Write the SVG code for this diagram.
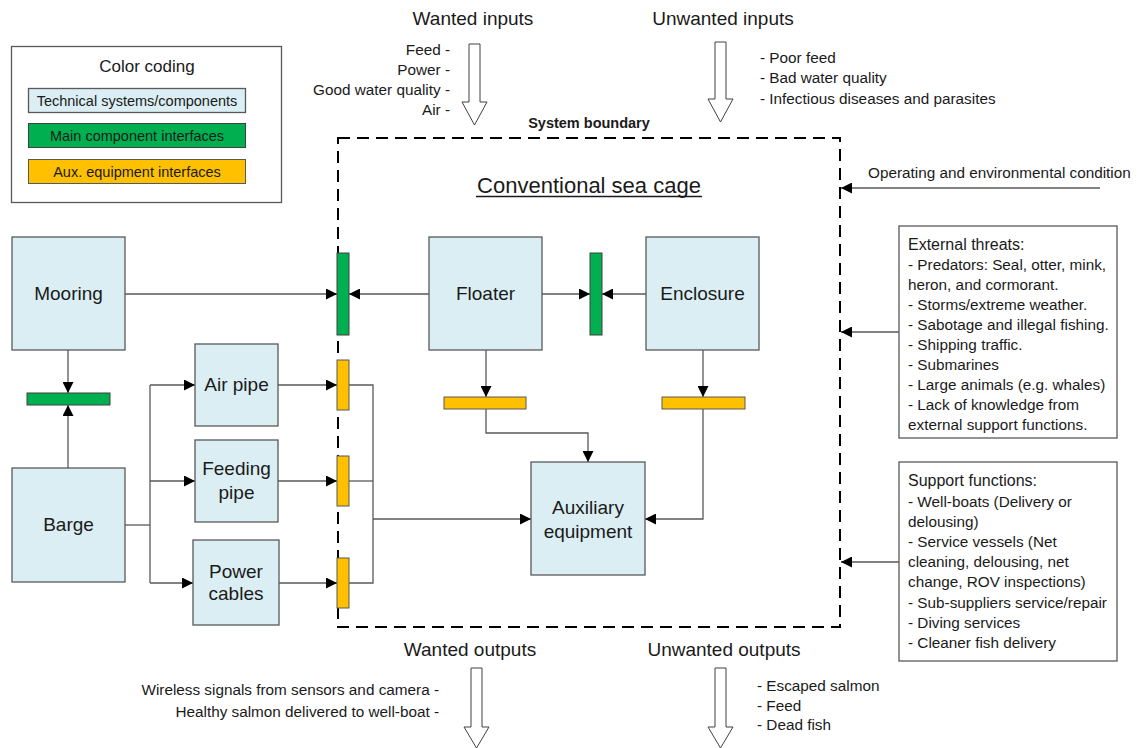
<svg xmlns="http://www.w3.org/2000/svg" width="1142" height="748" viewBox="0 0 1142 748">
  <style>
    text { font-family: "Liberation Sans", Arial, sans-serif; fill: #1a1a1a; }
    .node { fill: #DAEEF3; stroke: #595959; stroke-width: 1.3; }
    .main { fill: #00B050; stroke: #404040; stroke-width: 1; }
    .aux { fill: #FFC000; stroke: #595959; stroke-width: 1; }
    .box { fill: #ffffff; stroke: #595959; stroke-width: 1.3; }
    .lbl { font-size: 19px; text-anchor: middle; }
    .sm { font-size: 15.3px; }
    .leg { font-size: 14.5px; text-anchor: middle; }
    .hd { font-size: 19px; text-anchor: middle; }
    .conn { fill: none; stroke: #595959; stroke-width: 1.3; }
    .hollow { fill: #ffffff; stroke: #404040; stroke-width: 1; }
  </style>
  <defs>
    <marker id="ah" markerUnits="userSpaceOnUse" markerWidth="11" markerHeight="11" refX="11" refY="5.5" orient="auto">
      <path d="M0,0 L11,5.5 L0,11 z" fill="#000"/>
    </marker>
  </defs>
  <rect width="1142" height="748" fill="#ffffff"/>

  <!-- legend -->
  <g id="legend">
    <rect class="box" x="11.5" y="46.5" width="270" height="156"/>
    <text x="147" y="72" text-anchor="middle" font-size="17">Color coding</text>
    <rect class="node" x="28.5" y="88.5" width="217" height="24"/>
    <text x="137" y="105.5" class="leg">Technical systems/components</text>
    <rect class="main" x="28.5" y="123.5" width="217" height="24"/>
    <text x="137" y="140.5" class="leg">Main component interfaces</text>
    <rect class="aux" x="28.5" y="159.5" width="217" height="24"/>
    <text x="137" y="176.5" class="leg">Aux. equipment interfaces</text>
  </g>

  <!-- inputs -->
  <g id="wanted-inputs">
    <text class="hd" x="473" y="25">Wanted inputs</text>
    <polygon class="hollow" points="469,44 480,44 480,102 487,102 474.5,125 462,102 469,102"/>
    <g class="sm" text-anchor="end">
      <text x="450" y="55">Feed -</text>
      <text x="450" y="75">Power -</text>
      <text x="450" y="95">Good water quality -</text>
      <text x="450" y="115">Air  -</text>
    </g>
  </g>
  <g id="unwanted-inputs">
    <text class="hd" x="723" y="25">Unwanted inputs</text>
    <polygon class="hollow" points="715,42 726,42 726,99 733,99 720.5,122 708,99 715,99"/>
    <g class="sm">
      <text x="760" y="63">- Poor feed</text>
      <text x="760" y="83">- Bad water quality</text>
      <text x="760" y="104">- Infectious diseases and parasites</text>
    </g>
  </g>

  <!-- system boundary -->
  <g id="boundary">
    <text x="589" y="128" text-anchor="middle" font-size="14.5" font-weight="bold">System boundary</text>
    <rect x="338" y="138" width="502" height="489" fill="none" stroke="#000" stroke-width="2" stroke-dasharray="12,7"/>
    <text x="589" y="193" text-anchor="middle" font-size="22">Conventional sea cage</text>
    <line x1="476" y1="196.5" x2="702" y2="196.5" stroke="#1a1a1a" stroke-width="1.3"/>
  </g>

  <!-- connectors -->
  <g id="connectors" class="conn">
    <line x1="125" y1="294" x2="337" y2="294" marker-end="url(#ah)"/>
    <line x1="429" y1="294" x2="349" y2="294" marker-end="url(#ah)"/>
    <line x1="542" y1="294" x2="590" y2="294" marker-end="url(#ah)"/>
    <line x1="646" y1="294" x2="602" y2="294" marker-end="url(#ah)"/>
    <line x1="68" y1="350" x2="68" y2="393" marker-end="url(#ah)"/>
    <line x1="68" y1="468" x2="68" y2="405" marker-end="url(#ah)"/>
    <polyline points="125,525 150,525"/>
    <polyline points="150,385 150,583"/>
    <line x1="150" y1="385" x2="195" y2="385" marker-end="url(#ah)"/>
    <line x1="150" y1="481" x2="195" y2="481" marker-end="url(#ah)"/>
    <line x1="150" y1="583" x2="193" y2="583" marker-end="url(#ah)"/>
    <line x1="278" y1="385" x2="337" y2="385" marker-end="url(#ah)"/>
    <line x1="278" y1="481" x2="337" y2="481" marker-end="url(#ah)"/>
    <line x1="279" y1="583" x2="337" y2="583" marker-end="url(#ah)"/>
    <polyline points="349,385 373,385 373,583 349,583"/>
    <polyline points="349,481 373,481"/>
    <line x1="373" y1="519" x2="531" y2="519" marker-end="url(#ah)"/>
    <line x1="486" y1="350" x2="486" y2="397" marker-end="url(#ah)"/>
    <polyline points="486,409 486,433 588,433 588,462" marker-end="url(#ah)"/>
    <line x1="703" y1="350" x2="703" y2="397" marker-end="url(#ah)"/>
    <polyline points="703,409 703,519 645,519" marker-end="url(#ah)"/>
    <line x1="1100" y1="188" x2="841" y2="188" marker-end="url(#ah)"/>
    <line x1="899" y1="332" x2="841" y2="332" marker-end="url(#ah)"/>
    <line x1="899" y1="562" x2="841" y2="562" marker-end="url(#ah)"/>
  </g>

  <!-- technical systems -->
  <g id="mooring">
    <rect class="node" x="12" y="237" width="113" height="113"/>
    <text class="lbl" x="68.5" y="300">Mooring</text>
  </g>
  <g id="barge">
    <rect class="node" x="12" y="468" width="113" height="114"/>
    <text class="lbl" x="68.5" y="531">Barge</text>
  </g>
  <g id="air-pipe">
    <rect class="node" x="195" y="344" width="83" height="82"/>
    <text class="lbl" x="236.5" y="391" font-size="16.5">Air pipe</text>
  </g>
  <g id="feeding-pipe">
    <rect class="node" x="195" y="440" width="83" height="82"/>
    <text class="lbl" x="236.5" y="475" font-size="16.5">Feeding</text>
    <text class="lbl" x="236.5" y="499" font-size="16.5">pipe</text>
  </g>
  <g id="power-cables">
    <rect class="node" x="193" y="540" width="86" height="85"/>
    <text class="lbl" x="236" y="578" font-size="16.5">Power</text>
    <text class="lbl" x="236" y="600" font-size="16.5">cables</text>
  </g>
  <g id="floater">
    <rect class="node" x="429" y="237" width="113" height="113"/>
    <text class="lbl" x="485.5" y="300">Floater</text>
  </g>
  <g id="enclosure">
    <rect class="node" x="646" y="237" width="113" height="113"/>
    <text class="lbl" x="702.5" y="300">Enclosure</text>
  </g>
  <g id="auxiliary-equipment">
    <rect class="node" x="531" y="462" width="114" height="113"/>
    <text class="lbl" x="588" y="514">Auxiliary</text>
    <text class="lbl" x="588" y="538">equipment</text>
  </g>

  <!-- interfaces -->
  <g id="if-mooring-barge"><rect class="main" x="27" y="393" width="83" height="12"/></g>
  <g id="if-mooring-floater"><rect class="main" x="337" y="253" width="12" height="82"/></g>
  <g id="if-floater-enclosure"><rect class="main" x="590" y="253" width="12" height="82"/></g>
  <g id="if-air"><rect class="aux" x="337" y="360" width="12" height="50"/></g>
  <g id="if-feed"><rect class="aux" x="337" y="456" width="12" height="50"/></g>
  <g id="if-power"><rect class="aux" x="337" y="558" width="12" height="50"/></g>
  <g id="if-floater-aux"><rect class="aux" x="444" y="397" width="82" height="12"/></g>
  <g id="if-enclosure-aux"><rect class="aux" x="662" y="397" width="83" height="12"/></g>

  <!-- external conditions -->
  <g id="operating-condition">
    <text class="sm" x="868" y="178">Operating and environmental condition</text>
  </g>
  <g id="external-threats">
    <rect class="box" x="899" y="226" width="218" height="212"/>
    <g class="sm">
      <text x="908" y="250" font-size="16">External threats:</text>
      <text x="908" y="270">- Predators: Seal, otter, mink,</text>
      <text x="908" y="290">heron, and cormorant.</text>
      <text x="908" y="310">- Storms/extreme weather.</text>
      <text x="908" y="330">- Sabotage and illegal fishing.</text>
      <text x="908" y="350">- Shipping traffic.</text>
      <text x="908" y="370">- Submarines</text>
      <text x="908" y="390">- Large animals (e.g. whales)</text>
      <text x="908" y="410">- Lack of knowledge from</text>
      <text x="908" y="430">external support functions.</text>
    </g>
  </g>
  <g id="support-functions">
    <rect class="box" x="899" y="462" width="218" height="199"/>
    <g class="sm">
      <text x="908" y="486" font-size="16">Support functions:</text>
      <text x="908" y="507">- Well-boats (Delivery or</text>
      <text x="908" y="527">delousing)</text>
      <text x="908" y="547">- Service vessels (Net</text>
      <text x="908" y="567">cleaning, delousing, net</text>
      <text x="908" y="587">change, ROV inspections)</text>
      <text x="908" y="608">- Sub-suppliers service/repair</text>
      <text x="908" y="628">- Diving services</text>
      <text x="908" y="648">- Cleaner fish delivery</text>
    </g>
  </g>

  <!-- outputs -->
  <g id="wanted-outputs">
    <text class="hd" x="470" y="656">Wanted outputs</text>
    <polygon class="hollow" points="471,668 482,668 482,727 489,727 476.5,748 464,727 471,727"/>
    <g class="sm" text-anchor="end" font-size="15">
      <text x="439" y="695">Wireless signals from sensors and camera -</text>
      <text x="439" y="717">Healthy salmon delivered to well-boat -</text>
    </g>
  </g>
  <g id="unwanted-outputs">
    <text class="hd" x="724" y="656">Unwanted outputs</text>
    <polygon class="hollow" points="715,668 726,668 726,727 733,727 720.5,748 708,727 715,727"/>
    <g class="sm">
      <text x="757" y="691">- Escaped salmon</text>
      <text x="757" y="711">- Feed</text>
      <text x="757" y="730">- Dead fish</text>
    </g>
  </g>
</svg>
